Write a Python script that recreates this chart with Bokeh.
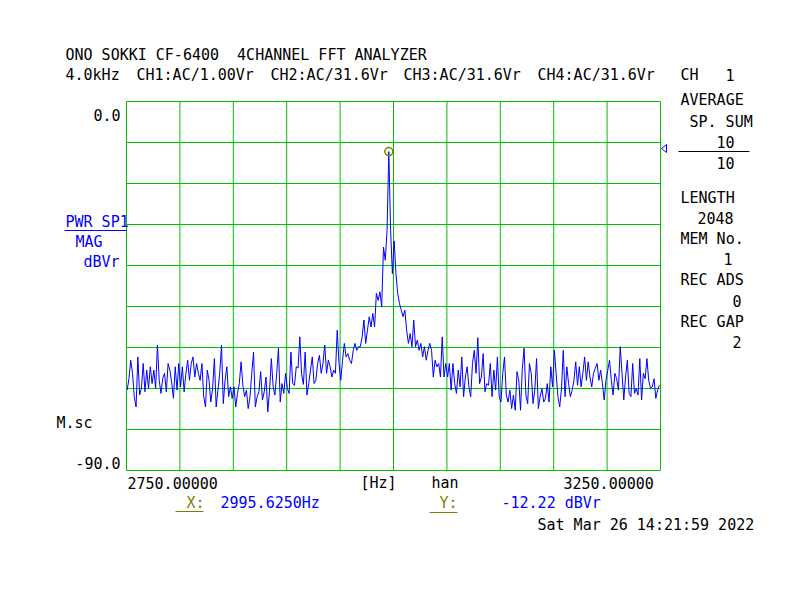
from bokeh.plotting import figure
from bokeh.models import Range1d
from bokeh.core.properties import value
from bokeh.embed import file_html
from bokeh.resources import INLINE

# ---------------- data ----------------
F_START = 2750.0
F_STOP = 3250.0
DB_TOP = 0.0
DB_BOTTOM = -90.0
BIN_START = 2750.625
BIN_STEP = 5.0 / 3.0

magnitude_dbvr = [
    -70.4, -67.6, -63.1, -66.3, -72.0, -74.5, -62.3, -71.6, -70.0, -63.9,
    -70.8, -65.5, -70.0, -64.7, -68.8, -65.5, -70.0, -59.4, -68.0, -71.2,
    -67.5, -66.3, -70.8, -63.9, -65.5, -68.5, -72.4, -64.7, -70.4, -63.9,
    -69.6, -64.7, -70.8, -66.3, -63.1, -68.0, -63.9, -62.3, -67.2, -63.9,
    -66.3, -68.0, -63.9, -72.0, -74.5, -65.5, -68.0, -73.3, -70.0, -62.7,
    -74.5, -70.4, -66.3, -59.4, -73.7, -68.0, -64.7, -72.0, -69.6, -72.4,
    -69.6, -74.5, -71.2, -68.8, -63.5, -69.2, -72.0, -70.4, -74.9, -72.0,
    -66.3, -61.1, -74.5, -72.0, -70.8, -65.9, -72.8, -70.8, -67.2, -75.7,
    -70.4, -62.7, -69.6, -71.6, -66.3, -60.2, -73.3, -68.8, -71.2, -66.3,
    -70.0, -71.2, -61.1, -68.8, -69.2, -64.7, -65.0, -57.4, -66.5, -69.0,
    -61.1, -71.6, -68.8, -65.5, -62.3, -68.8, -68.0, -63.9, -61.9, -66.3,
    -63.9, -59.4, -66.3, -63.1, -64.7, -67.2, -65.5, -66.3, -55.8, -63.9,
    -68.0, -63.1, -59.0, -62.3, -61.5, -63.1, -63.9, -60.7, -59.0, -60.7,
    -59.8, -59.8, -57.4, -53.3, -59.0, -55.8, -52.5, -55.0, -51.7, -55.0,
    -46.8, -48.5, -46.4, -50.1, -35.5, -38.7, -31.5, -12.22, -31.4, -42.0,
    -34.0, -42.0, -46.8, -49.3, -50.9, -52.5, -50.9, -55.8, -59.0, -56.6,
    -59.8, -53.3, -59.8, -58.2, -60.7, -59.0, -62.3, -59.8, -63.1, -60.7,
    -59.0, -60.7, -67.2, -63.1, -64.7, -63.9, -67.2, -57.4, -67.2, -63.9,
    -67.2, -63.9, -70.4, -63.9, -68.8, -71.2, -65.5, -69.6, -62.3, -72.0,
    -67.2, -64.7, -69.6, -72.0, -63.9, -60.7, -66.3, -57.6, -68.8, -67.2,
    -61.5, -70.8, -68.8, -69.2, -63.9, -72.0, -65.5, -70.4, -62.3, -72.0,
    -73.3, -66.3, -62.3, -71.6, -73.3, -70.4, -74.9, -71.6, -75.3, -65.9,
    -68.0, -75.3, -65.1, -60.2, -71.6, -73.7, -63.9, -66.3, -73.7, -70.4,
    -62.7, -74.9, -72.0, -70.0, -73.3, -72.4, -68.8, -73.3, -64.7, -69.6,
    -60.7, -66.3, -72.0, -74.5, -70.0, -60.7, -72.0, -64.7, -68.8, -72.0,
    -70.4, -68.0, -63.5, -69.2, -64.7, -69.6, -66.3, -62.3, -68.0, -63.5,
    -67.2, -69.6, -66.3, -65.1, -63.9, -68.0, -65.5, -68.8, -72.8, -68.0,
    -65.5, -63.1, -68.0, -71.6, -66.3, -67.6, -70.4, -59.8, -66.3, -72.8,
    -67.2, -63.1, -71.2, -72.0, -63.9, -71.2, -70.0, -71.6, -62.7, -72.8,
    -66.3, -67.6, -62.7, -68.0, -70.0, -69.6, -67.6, -72.4, -70.4, -69.2,
]
freq_hz = [BIN_START + BIN_STEP * i for i in range(len(magnitude_dbvr))]

x_ticks = [2750, 2800, 2850, 2900, 2950, 3000, 3050, 3100, 3150, 3200, 3250]
y_ticks = [-90, -80, -70, -60, -50, -40, -30, -20, -10, 0]

peak_i = max(range(len(magnitude_dbvr)), key=lambda i: magnitude_dbvr[i])
peak_freq = freq_hz[peak_i]
peak_db = magnitude_dbvr[peak_i]

header_1 = "ONO SOKKI CF-6400  4CHANNEL FFT ANALYZER"
header_2 = ["4.0kHz", "CH1:AC/1.00Vr", "CH2:AC/31.6Vr", "CH3:AC/31.6Vr", "CH4:AC/31.6Vr", "CH", "1"]
side_panel = ["AVERAGE", "SP. SUM", "10", "10", "LENGTH", "2048", "MEM No.", "1",
              "REC ADS", "0", "REC GAP", "2"]
date_text = "Sat Mar 26 14:21:59 2022"

# ---------------- layout ----------------
W, H = 800, 600
L, T, FW, FH = 126, 101, 534, 369          # pixel box of the spectrum area
GREEN = "#00C000"
BLUE = "#0000FF"
OLIVE = "#808000"
BLACK = "#000000"
FONT = "DejaVu Sans Mono"
FS = "15px"
NBSP = "\u00a0"

XS = (F_STOP - F_START) / FW                 # Hz per pixel
YS = (DB_TOP - DB_BOTTOM) / FH               # dB per pixel


def px2x(px):
    return F_START + (px - L) * XS


def py2y(py):
    return DB_TOP - (py - T) * YS


# the figure frame spans the whole canvas; the spectrum box is drawn inside it
p = figure(width=W, height=H, x_axis_type=None, y_axis_type=None,
           x_range=Range1d(px2x(0), px2x(W)), y_range=Range1d(py2y(H), py2y(0)),
           min_border=0, toolbar_location=None, output_backend="svg")
p.title.visible = False
p.outline_line_color = None
p.background_fill_color = "white"
p.border_fill_color = "white"

# grid lines (including the box edges)
p.segment(x0=x_ticks, y0=[DB_BOTTOM] * len(x_ticks), x1=x_ticks, y1=[DB_TOP] * len(x_ticks),
          line_color=GREEN, line_width=1)
p.segment(x0=[F_START] * len(y_ticks), y0=y_ticks, x1=[F_STOP] * len(y_ticks), y1=y_ticks,
          line_color=GREEN, line_width=1)

# spectrum trace + peak cursor
p.line(freq_hz, magnitude_dbvr, line_color=BLUE, line_width=1)
p.scatter([peak_freq], [peak_db], marker="circle", size=8, fill_color=None,
          line_color=OLIVE, line_width=1.5)


def lab(text, px, pyc, color=BLACK, align="left"):
    """text placed with its capital-letter centre at pixel row pyc"""
    p.text(x=[px2x(px)], y=[py2y(pyc)], text=[text.replace(" ", NBSP)],
           text_font=value(FONT), text_font_size=FS, text_color=color,
           text_baseline="alphabetic", text_align=align)


def seg(x0, y0, x1, y1, color):
    p.segment(x0=[px2x(x0)], y0=[py2y(y0)], x1=[px2x(x1)], y1=[py2y(y1)],
              line_color=color, line_width=1)


# header
lab(header_1, 65, 54)
for t, x in zip(header_2, [65, 136, 270, 403, 537, 680, 725]):
    lab(t, x, 74.5)

# side panel
side_pos = [(680, 99), (689, 121), (716, 141), (716, 162.5), (680, 197), (697, 217),
            (680, 238), (723, 258), (680, 279), (732, 300), (680, 321), (732, 341)]
for t, (x, y) in zip(side_panel, side_pos):
    lab(t, x, y)
seg(678, 151, 749, 151, BLACK)

# blue level marker triangle at right edge
p.patch(x=[px2x(661), px2x(666), px2x(666)], y=[py2y(148), py2y(144), py2y(152)],
        fill_alpha=0, line_color=BLUE, line_width=1)

# left labels
lab("%.1f" % DB_TOP, 120, 114, align="right")
lab("%.1f" % DB_BOTTOM, 120, 462.5, align="right")
lab("PWR SP1", 65, 221, BLUE)
seg(64, 230, 126, 230, BLUE)
lab("MAG", 75, 241, BLUE)
lab("dBVr", 83, 261, BLUE)
lab("M.sc", 56, 422)

# bottom labels
lab("%.5f" % F_START, 127, 482.5)
lab("[Hz]", 360, 482)
lab("han", 431, 482)
lab("%.5f" % F_STOP, 563, 482.5)
lab("X:", 186, 502.5, OLIVE)
seg(175, 511, 203, 511, OLIVE)
lab("%.4fHz" % peak_freq, 220, 502.5, BLUE)
lab("Y:", 439, 502.5, OLIVE)
seg(429, 512, 457, 512, OLIVE)
lab("%.2f dBVr" % peak_db, 501, 502.5, BLUE)
lab(date_text, 537, 524)

open("out.html", "w").write(file_html(p, INLINE))
